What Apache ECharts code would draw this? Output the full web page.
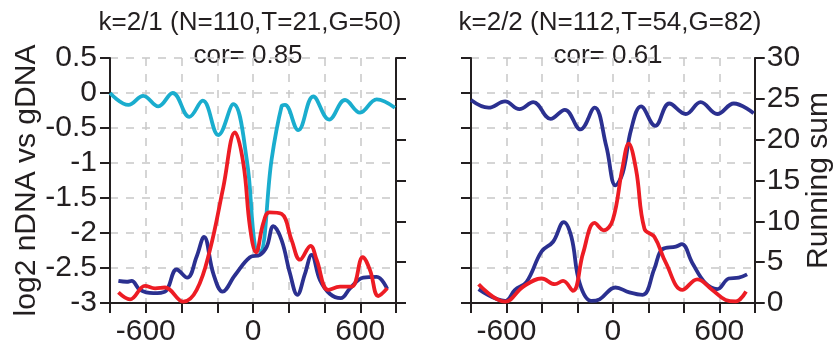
<!DOCTYPE html>
<html>
<head>
<meta charset="utf-8">
<script src="https://cdn.jsdelivr.net/npm/echarts@6/dist/echarts.min.js"></script>
<style>
  html, body { margin: 0; padding: 0; background: #ffffff; }
  #chart { width: 835px; height: 347px; }
</style>
</head>
<body>
<div id="chart"></div>
<script>
// x tick labels shown on both panels
const X_LABELS = [-600, 0, 600];

// panel 1 (k=2/1): log2 ratio, left axis
const p1LogX = [-800, -697, -614, -530, -449, -356, -281, -194, -110, -35, 11, 40, 104, 160, 179, 253, 337, 426, 515, 599, 692, 794];
const p1LogY = [0.0, -0.17, -0.04, -0.19, 0.0, -0.34, -0.11, -0.60, -0.16, -0.95, -2.19, -2.26, -0.95, -0.19, -0.17, -0.53, -0.05, -0.38, -0.10, -0.28, -0.09, -0.21];

// panel 1 running sums, right axis
const p1RedX = [-753, -688, -604, -548, -492, -390, -315, -241, -166, -101, -54, -17, 17, 58, 91, 160, 216, 263, 322, 356, 421, 487, 552, 614, 655, 701, 751];
const p1RedY = [1.3, 0.45, 2.1, 1.8, 1.9, 0.16, 1.6, 6.5, 14.2, 20.9, 17.1, 9.3, 6.2, 9.8, 11.1, 10.9, 7.7, 5.3, 7.0, 5.3, 1.6, 2.0, 2.0, 5.6, 4.0, 0.86, 1.8];
const p1NavyX = [-753, -707, -679, -632, -558, -492, -427, -368, -315, -274, -222, -170, -101, -17, 39, 77, 114, 160, 207, 248, 291, 328, 375, 431, 491, 543, 617, 692, 751];
const p1NavyY = [2.7, 2.6, 2.7, 1.6, 1.2, 1.4, 4.1, 3.1, 5.7, 8.1, 3.6, 1.4, 3.4, 5.6, 5.9, 6.9, 9.4, 7.7, 3.6, 1.0, 3.6, 5.9, 2.8, 1.1, 0.6, 1.8, 3.1, 3.2, 1.7];

// panel 2 (k=2/2): log2 ratio, left axis
const p2LogX = [-800, -701, -608, -527, -449, -351, -271, -183, -103, -37, 15, 56, 103, 159, 239, 318, 411, 495, 589, 682, 794];
const p2LogY = [-0.10, -0.21, -0.12, -0.23, -0.13, -0.37, -0.24, -0.52, -0.21, -0.76, -1.32, -1.14, -0.52, -0.19, -0.47, -0.15, -0.30, -0.13, -0.30, -0.15, -0.29];

// panel 2 running sums, right axis
const p2RedX = [-757, -608, -505, -402, -327, -281, -225, -168, -103, -52, 0, 52, 89, 131, 178, 234, 299, 392, 476, 561, 636, 692, 751];
const p2RedY = [2.3, 0.16, 2.0, 3.0, 2.3, 2.7, 1.5, 6.1, 9.8, 8.9, 10.2, 16.3, 19.5, 16.3, 9.1, 8.1, 4.9, 1.6, 2.9, 1.6, 0.37, 0.2, 1.4];
const p2NavyX = [-757, -608, -552, -486, -402, -337, -277, -234, -187, -121, -75, 15, 93, 168, 234, 280, 355, 389, 448, 523, 589, 654, 710, 757];
const p2NavyY = [1.7, 0.25, 1.6, 2.6, 6.3, 7.5, 9.9, 8.1, 2.4, 0.25, 0.45, 1.9, 1.3, 1.0, 4.2, 6.6, 6.9, 7.2, 4.9, 2.4, 1.7, 3.0, 3.1, 3.5];

const CYAN = '#1aadce';
const RED = '#ed1c24';
const NAVY = '#2b3090';
const INK = '#231f20';
const FONT = 'Liberation Sans';

const pairs = (xs, ys) => xs.map((x, i) => [x, ys[i]]);

function xAxis(gridIndex) {
  return {
    type: 'value', gridIndex, position: 'bottom', min: -800, max: 800, interval: 200,
    axisLine: { onZero: false, lineStyle: { color: INK, width: 2 } },
    axisTick: { length: 10, lineStyle: { color: INK, width: 2 } },
    axisLabel: {
      color: INK, fontFamily: FONT, fontSize: 30, margin: 14,
      formatter: (v) => (X_LABELS.includes(v) ? String(v) : ''),
    },
    splitLine: { show: true, lineStyle: { color: '#c8c8c8', type: [8, 8], width: 1.5 } },
  };
}

function logAxis(gridIndex, labels) {
  return {
    type: 'value', gridIndex, position: 'left', min: -3, max: 0.5, interval: 0.5,
    name: labels ? 'log2 nDNA vs gDNA' : '',
    nameLocation: 'middle', nameRotate: 90, nameGap: 68,
    nameTextStyle: { color: INK, fontFamily: FONT, fontSize: 30 },
    axisLine: { show: true, onZero: false, lineStyle: { color: INK, width: 2 } },
    axisTick: { show: true, length: 10, lineStyle: { color: INK, width: 2 } },
    axisLabel: { show: labels, color: INK, fontFamily: FONT, fontSize: 30, margin: 13 },
    splitLine: { show: true, lineStyle: { color: '#c8c8c8', type: [8, 8], width: 1.5 } },
  };
}

function sumAxis(gridIndex, labels) {
  return {
    type: 'value', gridIndex, position: 'right', min: 0, max: 30, interval: 5,
    name: labels ? 'Running sum' : '',
    nameLocation: 'middle', nameRotate: 90, nameGap: 48,
    nameTextStyle: { color: INK, fontFamily: FONT, fontSize: 30 },
    axisLine: { show: true, onZero: false, lineStyle: { color: INK, width: 2 } },
    axisTick: { show: true, length: 10, lineStyle: { color: INK, width: 2 } },
    axisLabel: { show: labels, color: INK, fontFamily: FONT, fontSize: 30, margin: 12 },
    splitLine: { show: false },
  };
}

function line(data, color, xAxisIndex, yAxisIndex) {
  return {
    type: 'line', data, xAxisIndex, yAxisIndex,
    smooth: 0.4, showSymbol: false, symbol: 'none',
    lineStyle: { color, width: 3.8 },
    animation: false,
  };
}

function text(x, y, str, size) {
  return {
    type: 'text', x, y,
    style: { text: str, fill: INK, font: size + 'px "' + FONT + '"', textAlign: 'center', textVerticalAlign: 'middle' },
  };
}

const chart = echarts.init(document.getElementById('chart'));
chart.setOption({
  animation: false,
  backgroundColor: '#ffffff',
  grid: [
    { left: 110, right: 439, top: 58, bottom: 44 },
    { left: 471, right: 79, top: 58, bottom: 44 },
  ],
  xAxis: [xAxis(0), xAxis(1)],
  yAxis: [logAxis(0, true), sumAxis(0, false), logAxis(1, false), sumAxis(1, true)],
  graphic: [
    text(250, 23, 'k=2/1 (N=110,T=21,G=50)', 26),
    text(248, 56, 'cor= 0.85', 26),
    text(610, 23, 'k=2/2 (N=112,T=54,G=82)', 26),
    text(608, 56, 'cor= 0.61', 26),
  ],
  series: [
    line(pairs(p1LogX, p1LogY), CYAN, 0, 0),
    line(pairs(p1NavyX, p1NavyY), NAVY, 0, 1),
    line(pairs(p1RedX, p1RedY), RED, 0, 1),
    line(pairs(p2LogX, p2LogY), NAVY, 1, 2),
    line(pairs(p2NavyX, p2NavyY), NAVY, 1, 3),
    line(pairs(p2RedX, p2RedY), RED, 1, 3),
  ],
});
</script>
</body>
</html>
